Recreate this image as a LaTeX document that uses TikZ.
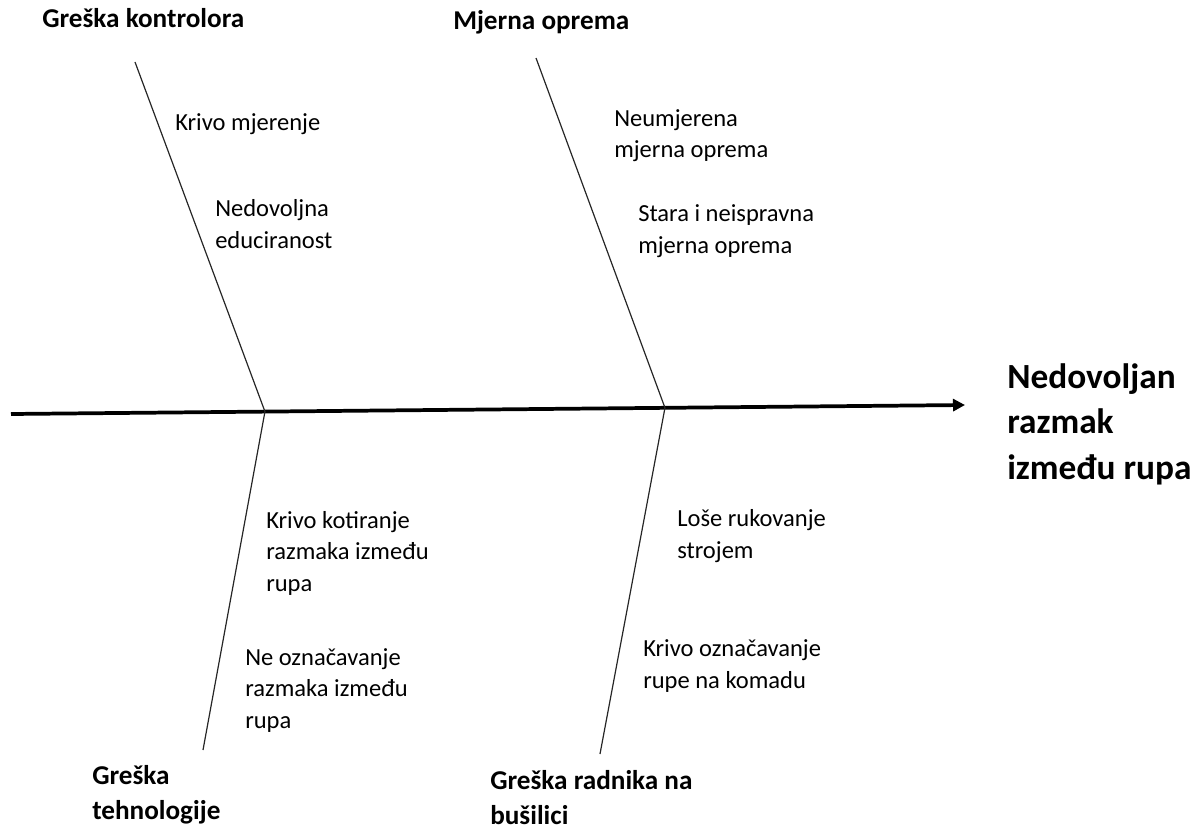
\documentclass[tikz,border=0pt]{standalone}
\usepackage{fontspec}
\setmainfont{Carlito}
\usepackage{tikz}
\usetikzlibrary{arrows.meta,positioning,calc}

\begin{document}
\begin{tikzpicture}[
					x = 0.75pt, y = -0.75pt,
					spine/.style = {line width = 2.8pt, -{Triangle[length=9pt,width=9pt]}},
					bone/.style = {line width = 0.9pt, draw = black!85},
					cause/.style = {anchor = base west, align = left, inner sep = 0pt,
						font = \fontsize{18.4}{23.6}\selectfont},
					category/.style = {anchor = base west, align = left, inner sep = 0pt,
						font = \fontsize{20.4}{26}\selectfont\bfseries},
					effect/.style = {anchor = base west, align = left, inner sep = 0pt,
						font = \fontsize{26.5}{34}\selectfont\bfseries}
					]

					\useasboundingbox (0,0) rectangle (1199,831);

					% spine
					\coordinate (tail) at (11,414);
					\coordinate (head) at (965,405);
					\coordinate (jl) at ($(tail)!0.2662!(head)$);
					\coordinate (jr) at ($(tail)!0.6855!(head)$);
					\draw[spine] (tail) -- (head);

					% bones
					\coordinate (kontrola) at (135,62);
					\coordinate (oprema) at (536,58);
					\coordinate (tehnologija) at (203,750);
					\coordinate (radnik) at (600,754);
					\draw[bone] (kontrola) -- (jl) -- (tehnologija);
					\draw[bone] (oprema) -- (jr) -- (radnik);

					% categories (anchored at the baseline of the last line)
					\node[category] (catK) at (42,28) {Greška kontrolora};
					\node[category] (catM) at (453,30) {Mjerna oprema};
					\node[category] (catT) at (92,819) {Greška\\tehnologije};
					\node[category] (catR) at (490,824) {Greška radnika na\\bušilici};

					% causes
					\node[cause] (c1) at (175,131) {Krivo mjerenje};
					\node[cause] (c2) at (215,248) {Nedovoljna\\educiranost};
					\node[cause] (c3) at (614,158) {Neumjerena\\mjerna oprema};
					\node[cause] (c4) at (638,253) {Stara i neispravna\\mjerna oprema};
					\node[cause] (c5) at (266,591) {Krivo kotiranje\\razmaka između\\rupa};
					\node[cause] (c6) at (245,728) {Ne označavanje\\razmaka između\\rupa};
					\node[cause] (c7) at (677,558) {Loše rukovanje\\strojem};
					\node[cause] (c8) at (643,688) {Krivo označavanje\\rupe na komadu};

					% effect
					\node[effect] (problem) at (1007,479) {Nedovoljan\\razmak\\između rupa};

				\end{tikzpicture}
\end{document}
